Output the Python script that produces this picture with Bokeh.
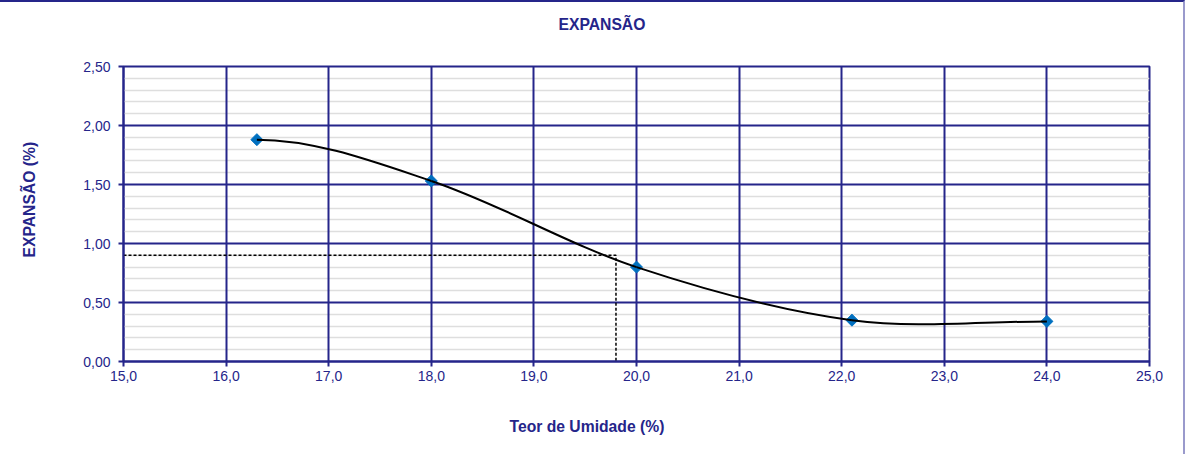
import numpy as np
from bokeh.plotting import figure
from bokeh.models import FixedTicker, Range1d, Title
from bokeh.embed import file_html
from bokeh.resources import INLINE

# Data
teor_umidade = [16.3, 18.0, 20.0, 22.1, 24.0]
expansao = [1.88, 1.53, 0.80, 0.35, 0.34]
ref_umidade = 19.8
ref_expansao = 0.90

x_ticks = [15, 16, 17, 18, 19, 20, 21, 22, 23, 24, 25]
x_tick_labels = ["15,0", "16,0", "17,0", "18,0", "19,0", "20,0", "21,0", "22,0", "23,0", "24,0", "25,0"]
y_ticks = [0.0, 0.5, 1.0, 1.5, 2.0, 2.5]
y_tick_labels = ["0,00", "0,50", "1,00", "1,50", "2,00", "2,50"]
y_minor = [0.1, 0.2, 0.3, 0.4, 0.6, 0.7, 0.8, 0.9, 1.1, 1.2, 1.3, 1.4,
           1.6, 1.7, 1.8, 1.9, 2.1, 2.2, 2.3, 2.4]

title_text = "EXPANSÃO"
x_title = "Teor de Umidade (%)"
y_title = "EXPANSÃO (%)"

NAVY = "#25258A"
FONT = "Liberation Sans"

p = figure(width=1189, height=454, output_backend="svg", toolbar_location=None, title=None,
           x_range=Range1d(15, 25), y_range=Range1d(0, 2.5),
           min_border_left=125, min_border_right=38, min_border_top=64, min_border_bottom=95)
p.styles = {"border-top": "2px solid #25258A", "border-left": "2px solid #9A9ACC",
            "border-right": "2px solid #9A9ACC", "margin-left": "-4px"}

p.outline_line_color = NAVY
p.outline_line_width = 2
p.background_fill_color = "white"
p.border_fill_color = "white"

for ax in (p.xaxis[0], p.yaxis[0]):
    ax.axis_line_color = NAVY
    ax.axis_line_width = 2
    ax.major_tick_line_color = NAVY
    ax.major_tick_line_width = 2
    ax.major_tick_out = 5
    ax.major_tick_in = 0
    ax.minor_tick_line_color = None
    ax.major_label_text_font = FONT
    ax.major_label_text_font_size = "14px"
    ax.major_label_text_color = NAVY
p.xaxis[0].ticker = FixedTicker(ticks=x_ticks)
p.xaxis[0].major_label_overrides = {t: l for t, l in zip(x_ticks, x_tick_labels)}
p.yaxis[0].ticker = FixedTicker(ticks=y_ticks, minor_ticks=y_minor)
p.yaxis[0].major_label_overrides = {t: l for t, l in zip(y_ticks, y_tick_labels)}
p.xaxis[0].major_label_standoff = 4
p.yaxis[0].major_label_standoff = 8

p.xgrid[0].grid_line_color = NAVY
p.xgrid[0].grid_line_width = 2
p.xgrid[0].level = "underlay"
p.ygrid[0].grid_line_color = NAVY
p.ygrid[0].grid_line_width = 2
p.ygrid[0].minor_grid_line_color = "#DEDEDE"
p.ygrid[0].minor_grid_line_width = 1.5
p.ygrid[0].level = "image"

# titles (a thin spacer sits between each side of the frame and its title)
txt_kw = dict(text_font=FONT, text_font_size="15.7px", text_font_style="bold",
              text_color=NAVY, align="left")
def spacer(s):
    return Title(text=" ", text_font_size="1px", standoff=s)

p.add_layout(spacer(31), "above")
p.add_layout(Title(text=title_text, offset=435, standoff=0, **txt_kw), "above")
p.add_layout(spacer(29), "below")
p.add_layout(Title(text=x_title, offset=386, standoff=0, **txt_kw), "below")
p.add_layout(spacer(40), "left")
p.add_layout(Title(text=y_title, offset=104, standoff=0, **txt_kw), "left")

# reference dashed lines
p.line([15, ref_umidade, ref_umidade], [ref_expansao, ref_expansao, 0],
       line_color="black", line_width=1.5, line_dash="3 2")

p.scatter(teor_umidade, expansao, marker="square", angle=np.pi / 4, size=8.5,
          fill_color="#0070C0", line_color="#0070C0", line_width=1)

# smoothed curve through the points (cubic Hermite segments drawn as beziers)
xs = np.array(teor_umidade)
ys = np.array(expansao)
m = np.zeros(len(xs))
m[1:-1] = (ys[2:] - ys[:-2]) / (xs[2:] - xs[:-2])
h = np.diff(xs)
p.bezier(x0=xs[:-1], y0=ys[:-1], x1=xs[1:], y1=ys[1:],
         cx0=xs[:-1] + h / 3, cy0=ys[:-1] + m[:-1] * h / 3,
         cx1=xs[1:] - h / 3, cy1=ys[1:] - m[1:] * h / 3,
         line_color="black", line_width=2)

open("out.html", "w").write(file_html(p, INLINE))
